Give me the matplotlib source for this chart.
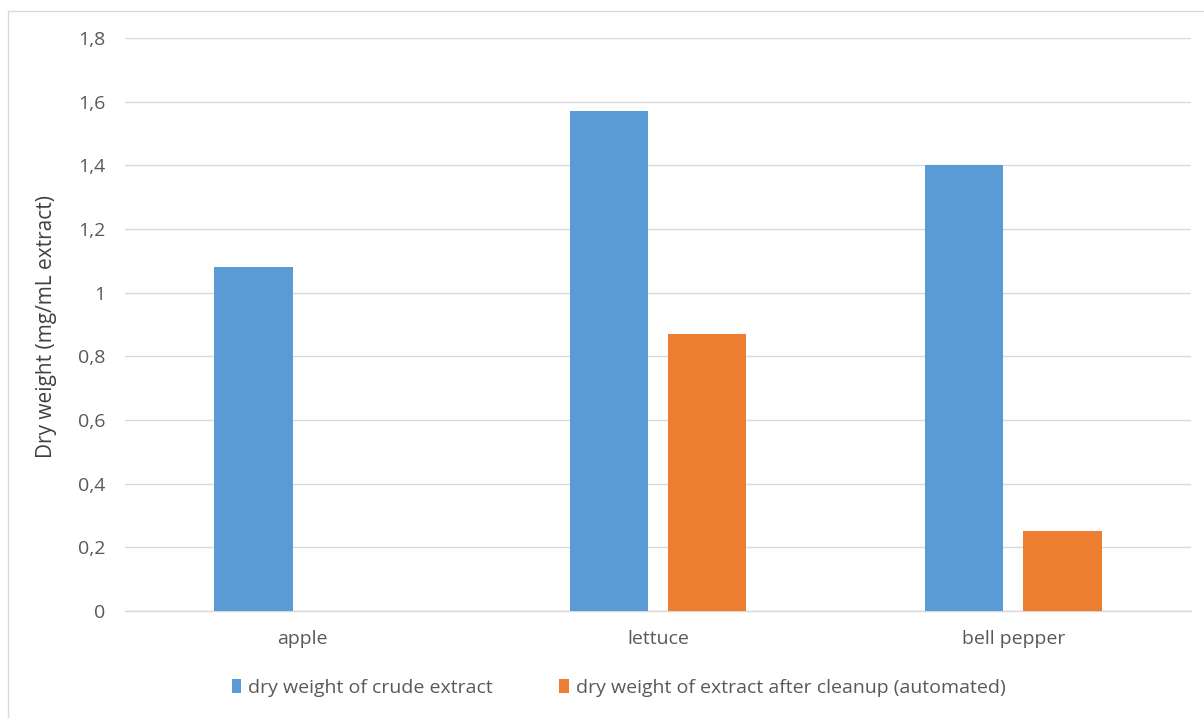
import numpy as np
import matplotlib
matplotlib.use("Agg")
import matplotlib.pyplot as plt
from matplotlib.ticker import FuncFormatter, MultipleLocator
from matplotlib.patches import Rectangle

# data
categories = ["apple", "lettuce", "bell pepper"]
crude = [1.08, 1.57, 1.40]
after_cleanup = [0.0, 0.87, 0.25]
series_names = ["dry weight of crude extract",
                "dry weight of extract after cleanup (automated)"]
ylabel = "Dry weight (mg/mL extract)"

blue = "#5B9BD5"
orange = "#ED7D31"
text_gray = "#595959"
grid_gray = "#D9D9D9"

plt.rcParams["font.family"] = ["Open Sans", "DejaVu Sans"]

fig = plt.figure(figsize=(12.04, 7.18), dpi=100)
# chart frame: only left and top edges are inside the picture
fig.patches.append(Rectangle((8 / 1204, -0.05), 1.1, 0.05 + 707 / 718,
                             transform=fig.transFigure, fill=False,
                             edgecolor="#D9D9D9", linewidth=1.0))

ax = fig.add_axes([125 / 1204, 107 / 718, 1066 / 1204, 573 / 718])

x = np.arange(len(categories))
w = 0.22
ax.bar(x - 0.1385, crude, width=w, color=blue, label=series_names[0], zorder=3)
ax.bar(x + 0.1385, after_cleanup, width=w, color=orange, label=series_names[1], zorder=3)

ax.set_xlim(-0.5, len(categories) - 0.5)
ax.set_ylim(0, 1.8)
ax.yaxis.set_major_locator(MultipleLocator(0.2))


def fmt(v, pos):
    s = f"{v:.1f}".rstrip("0").rstrip(".")
    return s.replace(".", ",")


ax.yaxis.set_major_formatter(FuncFormatter(fmt))
ax.set_xticks(x)
ax.set_xticklabels(categories)

ax.grid(axis="y", color=grid_gray, linewidth=1.0, zorder=0)
for side in ["top", "right", "left"]:
    ax.spines[side].set_visible(False)
ax.spines["bottom"].set_color(grid_gray)
ax.spines["bottom"].set_linewidth(1.0)
ax.tick_params(axis="both", length=0, labelsize=14, labelcolor=text_gray)
ax.tick_params(axis="y", pad=14)
ax.tick_params(axis="x", pad=14)

ax.set_ylabel(ylabel, fontsize=15, color="#404040")
ax.yaxis.set_label_coords(-0.064, 0.497)

leg = ax.legend(loc="center", bbox_to_anchor=(0.463, -0.134), ncol=2,
                frameon=False, fontsize=14, handlelength=0.5,
                handleheight=0.7, handletextpad=0.35, columnspacing=3.4)
for t in leg.get_texts():
    t.set_color(text_gray)

fig.savefig("out.png", dpi=100)
